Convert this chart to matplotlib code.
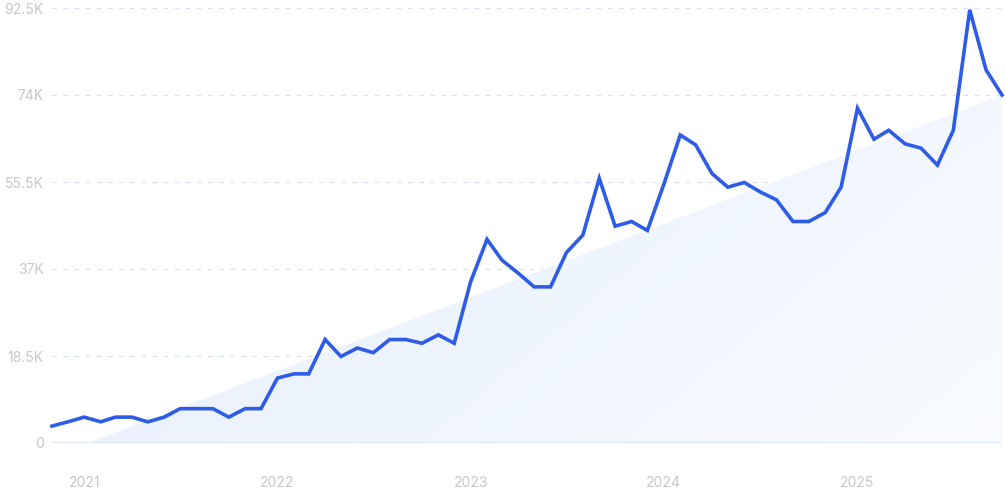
#!/usr/bin/env python3
"""Monthly search volume line with a shaded trend wedge."""

import matplotlib
matplotlib.use("Agg")
import matplotlib.pyplot as plt
import matplotlib.dates as mdates
import numpy as np
import pandas as pd
from matplotlib.patches import Polygon

# monthly values, Nov 2020 .. Oct 2025 (thousands)
months = pd.date_range("2020-11-01", "2025-10-01", freq="MS")
values_k = [
    3.6, 4.5,                                                   # 2020
    5.5, 4.5, 5.5, 5.5, 4.5, 5.5, 7.3, 7.3, 7.3, 5.5, 7.3, 7.3,  # 2021
    13.8, 14.7, 14.7, 22.0, 18.4, 20.2, 19.2, 22.0, 22.0, 21.2, 23.0, 21.2,  # 2022
    34.3, 43.3, 38.9, 36.1, 33.2, 33.2, 40.5, 44.2, 56.3, 46.1, 47.1, 45.2,  # 2023
    55.0, 65.5, 63.4, 57.3, 54.4, 55.4, 53.4, 51.7, 47.1, 47.1, 49.0, 54.4,  # 2024
    71.2, 64.6, 66.5, 63.6, 62.7, 59.1, 66.5, 92.1, 79.3, 74.0,  # 2025
]
values = np.array(values_k) * 1000

# trend wedge end points
trend_dates = pd.to_datetime(["2021-01-08", "2025-10-01"])
trend_values = [0, 74000]

y_ticks = [0, 18500, 37000, 55500, 74000, 92500]
y_labels = ["0", "18.5K", "37K", "55.5K", "74K", "92.5K"]
x_ticks = pd.to_datetime(["2021-01-01", "2022-01-01", "2023-01-01", "2024-01-01", "2025-01-01"])
x_labels = ["2021", "2022", "2023", "2024", "2025"]

plt.rcParams["font.family"] = ["Inter", "DejaVu Sans"]

fig = plt.figure(figsize=(10.06, 5.0), dpi=100)
ax = fig.add_axes([52 / 1006, 1 - 443 / 500, 950 / 1006, 435 / 500])
ax.set_xlim(months[0], months[-1])
ax.set_ylim(0, 92500)

# trend wedge filled with a soft diagonal gradient
tx = mdates.date2num(trend_dates)
poly = Polygon([(tx[0], trend_values[0]), (tx[1], trend_values[1]), (tx[1], 0)],
               closed=True, facecolor="none", edgecolor="none")
ax.add_patch(poly)
gx, gy = np.meshgrid(np.linspace(0, 1, 200), np.linspace(1, 0, 100))
g = np.clip(0.65 * gx + 0.35 * (1 - gy), 0, 1)
c0 = np.array([0.89, 0.93, 0.99])
c1 = np.array([0.975, 0.985, 1.0])
img = c0[None, None, :] * (1 - g[..., None]) + c1[None, None, :] * g[..., None]
xl = mdates.date2num(months[[0, -1]])
im = ax.imshow(img, extent=[xl[0], xl[1], 0, 92500], aspect="auto", zorder=1,
               interpolation="bilinear")
im.set_clip_path(poly)

for yt in y_ticks[1:]:
    ax.axhline(yt, color="#d2dffa", lw=0.8, dashes=(4.0, 6.0), zorder=0.5)
ax.axhline(0, color="#d3e0f8", lw=1.1, zorder=2)

ax.plot(months, values, color="#2e5ce6", lw=2.6, solid_joinstyle="miter",
        zorder=3, clip_on=False)

for s in ax.spines.values():
    s.set_visible(False)
ax.set_yticks(y_ticks)
ax.set_yticklabels(y_labels)
ax.set_xticks(x_ticks)
ax.set_xticklabels(x_labels)
ax.tick_params(axis="y", length=0, pad=6, labelsize=10, labelcolor="#c6c6cc")
ax.tick_params(axis="x", length=0, pad=24, labelsize=10, labelcolor="#c6c6cc")

fig.savefig("out.png", dpi=100)
